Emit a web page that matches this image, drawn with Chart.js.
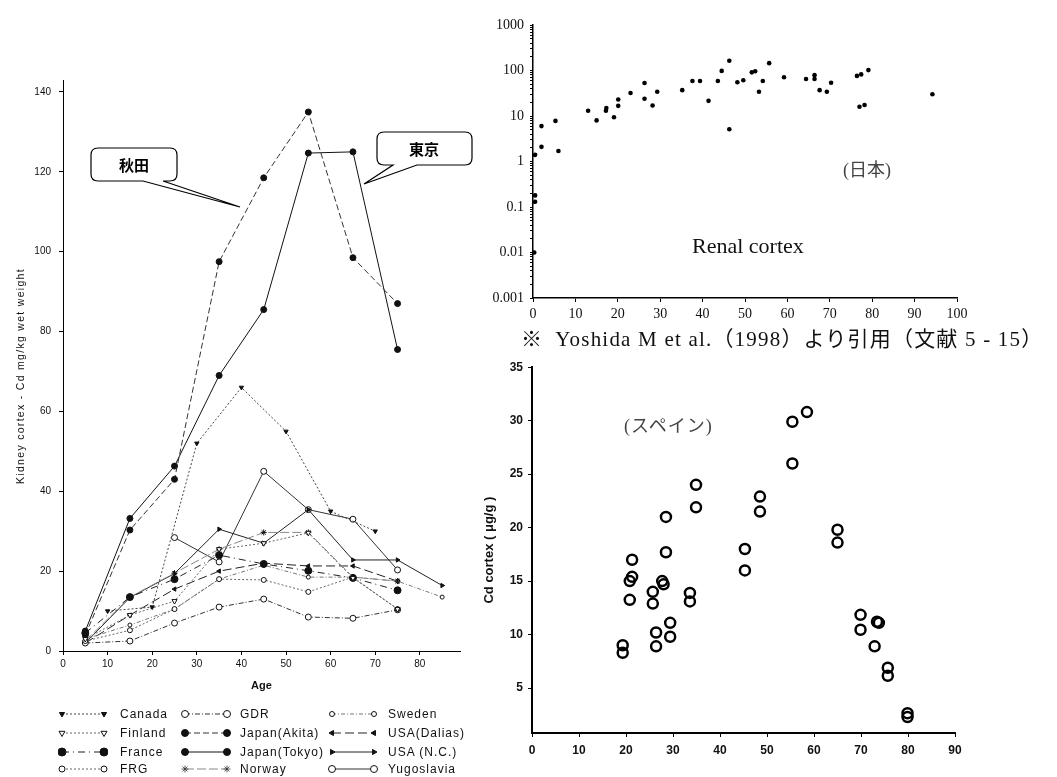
<!DOCTYPE html>
<html lang="ja">
<head>
<meta charset="UTF-8">
<title>Kidney cortex Cd by age</title>
<script src="https://cdn.jsdelivr.net/npm/chart.js@4.4.0/dist/chart.umd.min.js"></script>
<style>
    body {
        margin: 0;
        background: #fff;
        width: 1057px;
        height: 777px;
        position: relative;
        overflow: hidden;
        font-family: 'Liberation Sans', Arial, sans-serif;
    }
    .panel { position: absolute; }
    .note { position: absolute; white-space: pre; color: #111; }
    .serif { font-family: 'Liberation Serif', 'Noto Sans CJK JP', serif; }
    .lg-item { position: absolute; height: 14px; display: flex; align-items: center; }
    .lg-text { position: absolute; font-size: 12px; letter-spacing: 1px; color: #111; white-space: pre; line-height: 14px; }
    #callouts { position: absolute; left: 0; top: 0; pointer-events: none; }
    #ytitle {
        position: absolute; left: 20px; top: 376px; white-space: pre;
        font-size: 10.5px; letter-spacing: 1.3px; color: #111;
        transform: translate(-50%, -50%) rotate(-90deg);
    }
</style>
</head>
<body>
    <div class="panel" style="left:0;top:60px;width:470px;height:640px"><canvas id="countries"></canvas></div>
    <div class="panel" style="left:480px;top:0;width:500px;height:330px"><canvas id="japan"></canvas></div>
    <div class="panel" style="left:480px;top:355px;width:500px;height:420px"><canvas id="spain"></canvas></div>

    <div id="ytitle">Kidney cortex - Cd mg/kg wet weight</div>

    <svg id="callouts" width="1057" height="777">
        <path d="M98 148 H170 Q177 148 177 155 V174 Q177 181 170 181 H163 L240 207 L143 181 H98 Q91 181 91 174 V155 Q91 148 98 148 Z"
              fill="#fff" stroke="#000" stroke-width="1.2"/>
        <path d="M384 132 H465 Q472 132 472 139 V158 Q472 165 465 165 H417 L364 184 L393 165 H384 Q377 165 377 158 V139 Q377 132 384 132 Z"
              fill="#fff" stroke="#000" stroke-width="1.2"/>
        <text x="134" y="171" text-anchor="middle" font-size="15" font-weight="bold" font-family="Noto Sans CJK JP">秋田</text>
        <text x="424" y="155" text-anchor="middle" font-size="15" font-weight="bold" font-family="Noto Sans CJK JP">東京</text>
    </svg>

    <div class="note serif" style="left:843px;top:155px;font-size:18px;color:#444">(日本)</div>
    <div class="note serif" style="left:692px;top:233px;font-size:22px">Renal cortex</div>
    <div class="note serif" style="left:521px;top:322px;font-size:21px;letter-spacing:1.2px">※  Yoshida M et al.（1998）より引用（文献 5 - 15）</div>
    <div class="note serif" style="left:624px;top:411px;font-size:18px;letter-spacing:1px;color:#444">(スペイン)</div>

    <div id="legend"></div>

<script>
// ---- left chart: Cd in kidney cortex by country (mg/kg wet weight)
const ageGrid = [5, 10, 15, 20, 25, 30, 35, 40, 45, 50, 55, 60, 65, 70, 75, 80, 85];
const canada     = [null, 10, null, 11, null, 52, null, 66, null, 55, null, 35, null, 30, null, null, null];
const finland    = [3, null, 9, null, 12.5, null, 25.5, null, 27, null, 29.6, null, 18.3, null, 10.5, null, null];
const france     = [4.5, null, 13.5, null, 18, null, 24, null, 21.8, null, 20.1, null, 18.3, null, 15.2, null, null];
const frg        = [2.5, null, 5.2, null, 10.5, null, 18, null, 17.8, null, 14.8, null, 18.5, null, 10.5, null, null];
const gdr        = [2, null, 2.5, null, 7, null, 11, null, 13, null, 8.5, null, 8.2, null, 10.3, null, null];
const akita      = [4, null, 30.3, null, 43, null, 97.5, null, 118.5, null, 135, null, 98.5, null, 87, null, null];
const tokyo      = [5, null, 33.2, null, 46.3, null, 69, null, 85.5, null, 124.7, null, 125, null, 75.5, null, null];
const norway     = [2.5, null, 13.5, null, 19.5, null, 25.5, null, 29.7, null, 29.7, null, 18.5, null, 17.5, null, null];
const sweden     = [3, null, 6.5, null, 10.5, null, 18, null, 21.5, null, 18.5, null, 18.5, null, 17.5, null, 13.5];
const usaDallas  = [2, null, 9, null, 15.5, null, 20, null, 22, null, 21.3, null, 21.3, null, 17.5, null, null];
const usaNC      = [2, null, 13.4, null, 19.4, null, 30.5, null, 27, null, 35.4, null, 22.8, null, 22.8, null, 16.4];
const yugoslavia = [null, null, null, null, 28.4, null, 22.3, null, 45, null, 35.4, null, 33, null, 20.3, null, null];

const seriesNames = ['Canada', 'Finland', 'France', 'FRG', 'GDR', 'Japan(Akita)', 'Japan(Tokyo)', 'Norway',
                     'Sweden', 'USA(Dalias)', 'USA (N.C.)', 'Yugoslavia'];
const seriesValues = [canada, finland, france, frg, gdr, akita, tokyo, norway, sweden, usaDallas, usaNC, yugoslavia];

const leftYTicks = [0, 20, 40, 60, 80, 100, 120, 140];
const leftXTicks = [0, 10, 20, 30, 40, 50, 60, 70, 80];

// ---- top right: Japan, renal cortex (log scale)
const jpAge = [0.5, 0.5, 0.5, 0.3, 2, 2, 5.3, 6, 13, 15, 17.2, 17.3, 19.1, 20.1, 20.1, 23, 26.3, 26.3, 28.2, 29.3,
               35.2, 37.6, 39.4, 41.4, 43.6, 44.5, 46.3, 46.3, 48.2, 49.6, 51.6, 52.4, 53.3, 54.2, 55.7, 59.2,
               64.4, 66.4, 66.4, 67.6, 69.3, 70.3, 76.4, 77.4, 79.1, 77, 78.2, 94.2];
const jpCd = [1.4, 0.18, 0.13, 0.01, 6, 2.1, 7.8, 1.7, 13, 8, 13, 15, 9.4, 23, 16.7, 32, 53, 24, 17, 34,
              37, 59, 59, 21.5, 59, 98, 164, 5.1, 55, 61, 91, 96, 34, 59, 145, 71,
              65, 79, 65, 37, 34, 54, 76, 82, 102, 16, 17.5, 30];
const jpYLabels = ['0.001', '0.01', '0.1', '1', '10', '100', '1000'];
const jpXTicks = [0, 10, 20, 30, 40, 50, 60, 70, 80, 90, 100];

// ---- bottom right: Spain, Cd cortex (ug/g)
const spAge = [19.3, 19.3, 20.8, 20.8, 21.3, 21.3, 25.7, 25.7, 26.4, 26.4, 27.7, 28, 28.5, 28.5, 29.4, 29.4,
               33.6, 33.6, 34.9, 34.9, 45.3, 45.3, 48.5, 48.5, 55.4, 55.4, 58.5, 65, 65, 69.9, 69.9,
               73.4, 73.8, 72.9, 75.7, 75.7, 79.9, 79.9];
const spCd = [9, 8.3, 15, 13.25, 17, 15.4, 14, 12.9, 10.2, 8.9, 15, 14.7, 21, 17.7, 11.1, 9.8,
              13.9, 13.1, 24, 21.9, 18, 16, 22.9, 21.5, 29.9, 26, 30.8, 19.8, 18.6, 11.85, 10.45,
              11.2, 11.1, 8.9, 6.9, 6.15, 2.65, 2.3];
const spYTicks = [5, 10, 15, 20, 25, 30, 35];
const spXTicks = [0, 10, 20, 30, 40, 50, 60, 70, 80, 90];

// line look per country (kept apart from the data)
const lineStyles = {
    'Canada':       { dash: [2, 2],       color: '#444', marker: 'triangle', rot: 180, fill: true,  r: 2.5 },
    'Finland':      { dash: [2, 2],       color: '#666', marker: 'triangle', rot: 180, fill: false, r: 3 },
    'France':       { dash: [7, 4, 1, 4], color: '#222', marker: 'circle',   rot: 0,   fill: true,  r: 3.5 },
    'FRG':          { dash: [2, 2],       color: '#666', marker: 'circle',   rot: 0,   fill: false, r: 2.5 },
    'GDR':          { dash: [5, 2, 1, 2], color: '#333', marker: 'circle',   rot: 0,   fill: false, r: 3 },
    'Japan(Akita)': { dash: [6, 3],       color: '#333', marker: 'circle',   rot: 0,   fill: true,  r: 3 },
    'Japan(Tokyo)': { dash: [],           color: '#111', marker: 'circle',   rot: 0,   fill: true,  r: 3 },
    'Norway':       { dash: [9, 3],       color: '#888', marker: 'star',     rot: 0,   fill: false, r: 3 },
    'Sweden':       { dash: [4, 2, 1, 2], color: '#777', marker: 'circle',   rot: 0,   fill: false, r: 2 },
    'USA(Dalias)':  { dash: [9, 4],       color: '#222', marker: 'triangle', rot: 270, fill: true,  r: 2.5 },
    'USA (N.C.)':   { dash: [],           color: '#222', marker: 'triangle', rot: 90,  fill: true,  r: 2.5 },
    'Yugoslavia':   { dash: [],           color: '#333', marker: 'circle',   rot: 0,   fill: false, r: 3 }
};

Chart.defaults.color = '#111';
Chart.defaults.animation = false;

function fixWidth(w) { return function(scale) { scale.width = w; }; }
function fixHeight(h) { return function(scale) { scale.height = h; }; }
function setTicks(list) { return function(scale) { scale.ticks = list.map(v => ({ value: v })); }; }

// left chart
const countryDatasets = seriesNames.map((name, k) => {
    const st = lineStyles[name];
    const pts = ageGrid.map((a, i) => ({ x: a, y: seriesValues[k][i] })).filter(p => p.y !== null);
    return {
        label: name,
        data: pts,
        showLine: true,
        borderColor: st.color,
        borderWidth: 1,
        borderDash: st.dash,
        pointStyle: st.marker,
        rotation: st.rot,
        pointRadius: st.r,
        pointBorderWidth: 1,
        pointBorderColor: '#111',
        pointBackgroundColor: st.fill ? '#111' : '#fff',
        tension: 0
    };
});

new Chart(document.getElementById('countries'), {
    type: 'scatter',
    data: { datasets: countryDatasets },
    options: {
        responsive: true,
        maintainAspectRatio: false,
        layout: { padding: { top: 20, right: 10, left: 0, bottom: 0 } },
        plugins: { legend: { display: false }, tooltip: { enabled: false } },
        scales: {
            x: {
                type: 'linear', min: 0, max: 89,
                afterBuildTicks: setTicks(leftXTicks),
                afterFit: fixHeight(49),
                border: { color: '#000', width: 1 },
                grid: { drawOnChartArea: false, color: '#000', tickLength: 4 },
                ticks: { font: { size: 10 }, padding: 3, maxRotation: 0 },
                title: { display: true, text: 'Age', font: { size: 11, weight: 'bold' }, padding: { top: 0, bottom: 7 } }
            },
            y: {
                min: 0, max: 143,
                afterBuildTicks: setTicks(leftYTicks),
                afterFit: fixWidth(63),
                border: { color: '#000', width: 1 },
                grid: { drawOnChartArea: false, color: '#000', tickLength: 4 },
                ticks: { font: { size: 10 }, padding: 8 }
            }
        }
    }
});

// top right: Japan, log scale
const jpMinor = [];
for (let d = -3; d <= 2; d++) {
    for (let m = 1; m <= 9; m++) jpMinor.push(Number((m * Math.pow(10, d)).toPrecision(3)));
}
jpMinor.push(1000);

new Chart(document.getElementById('japan'), {
    type: 'scatter',
    data: {
        datasets: [{
            label: 'Renal cortex',
            data: jpAge.map((a, i) => ({ x: a, y: jpCd[i] })),
            pointRadius: 2.3,
            pointBackgroundColor: '#000',
            pointBorderColor: '#000',
            pointBorderWidth: 0
        }]
    },
    options: {
        responsive: true,
        maintainAspectRatio: false,
        layout: { padding: { top: 25, right: 23, left: 0, bottom: 0 } },
        plugins: { legend: { display: false }, tooltip: { enabled: false } },
        scales: {
            x: {
                type: 'linear', min: 0, max: 100,
                afterBuildTicks: setTicks(jpXTicks),
                afterFit: fixHeight(32),
                border: { color: '#000', width: 1.5 },
                grid: { drawOnChartArea: false, color: '#000', tickLength: 4 },
                ticks: { font: { family: 'Liberation Serif', size: 14 }, padding: 4, maxRotation: 0 }
            },
            y: {
                type: 'logarithmic', min: 0.001, max: 1000,
                afterBuildTicks: setTicks(jpMinor),
                afterFit: fixWidth(53),
                border: { color: '#000', width: 1.5 },
                grid: { drawOnChartArea: false, color: '#000', tickLength: 3 },
                ticks: {
                    font: { family: 'Liberation Serif', size: 14 }, padding: 6, autoSkip: false,
                    callback: function(v) {
                        const L = Math.log10(v);
                        return Math.abs(L - Math.round(L)) < 1e-6 ? jpYLabels[Math.round(L) + 3] : '';
                    }
                }
            }
        }
    }
});

// bottom right: Spain
new Chart(document.getElementById('spain'), {
    type: 'scatter',
    data: {
        datasets: [{
            label: 'Cd cortex',
            data: spAge.map((a, i) => ({ x: a, y: spCd[i] })),
            pointRadius: 5,
            pointBorderWidth: 2.5,
            pointBorderColor: '#000',
            pointBackgroundColor: 'rgba(255,255,255,0)'
        }]
    },
    options: {
        responsive: true,
        maintainAspectRatio: false,
        layout: { padding: { top: 12, right: 25, left: 0, bottom: 0 } },
        plugins: { legend: { display: false }, tooltip: { enabled: false } },
        scales: {
            x: {
                type: 'linear', min: 0, max: 90,
                afterBuildTicks: setTicks(spXTicks),
                afterFit: fixHeight(42),
                border: { color: '#000', width: 2 },
                grid: { drawOnChartArea: false, color: '#000', tickLength: 4 },
                ticks: { font: { size: 12, weight: 'bold' }, padding: 6, maxRotation: 0 }
            },
            y: {
                min: 0.8, max: 35,
                afterBuildTicks: setTicks(spYTicks),
                afterFit: fixWidth(52),
                border: { color: '#000', width: 2 },
                grid: { drawOnChartArea: false, color: '#000', tickLength: 4 },
                ticks: { font: { size: 12, weight: 'bold' }, padding: 5 },
                title: { display: true, text: 'Cd cortex ( μg/g )', font: { size: 13, weight: 'bold' }, padding: { top: 2, bottom: 0 } }
            }
        }
    }
});

// legend under the left chart, 3 columns x 4 rows
const legendSampleX = [58, 181, 328];
const legendTextX = [120, 240, 388];
const legendRowY = [714, 733, 752, 769];

function markerSvg(st, cx, cy) {
    const fill = st.fill ? '#111' : '#fff';
    const r = st.r + 0.5;
    if (st.marker === 'circle') {
        return `<circle cx="${cx}" cy="${cy}" r="${r}" fill="${fill}" stroke="#111" stroke-width="1"/>`;
    }
    if (st.marker === 'triangle') {
        const p = [[0, -r], [r * 0.87, r * 0.5], [-r * 0.87, r * 0.5]].map(([x, y]) => {
            const a = st.rot * Math.PI / 180;
            return (cx + x * Math.cos(a) - y * Math.sin(a)).toFixed(1) + ',' + (cy + x * Math.sin(a) + y * Math.cos(a)).toFixed(1);
        }).join(' ');
        return `<polygon points="${p}" fill="${fill}" stroke="#111" stroke-width="1"/>`;
    }
    return `<path d="M${cx - r} ${cy} H${cx + r} M${cx} ${cy - r} V${cy + r} M${cx - r * 0.7} ${cy - r * 0.7} L${cx + r * 0.7} ${cy + r * 0.7} M${cx - r * 0.7} ${cy + r * 0.7} L${cx + r * 0.7} ${cy - r * 0.7}" stroke="#333" stroke-width="0.8"/>`;
}

const legendBox = document.getElementById('legend');
seriesNames.forEach((name, i) => {
    const col = Math.floor(i / 4), row = i % 4;
    const st = lineStyles[name];
    const w = 50;
    const sample = document.createElement('div');
    sample.className = 'lg-item';
    sample.style.left = legendSampleX[col] + 'px';
    sample.style.top = (legendRowY[row] - 7) + 'px';
    sample.innerHTML = `<svg width="${w}" height="14"><line x1="4" y1="7" x2="${w - 4}" y2="7" stroke="${st.color}" stroke-width="1" stroke-dasharray="${st.dash.join(' ')}"/>${markerSvg(st, 4, 7)}${markerSvg(st, w - 4, 7)}</svg>`;
    legendBox.appendChild(sample);

    const label = document.createElement('div');
    label.className = 'lg-text';
    label.style.left = legendTextX[col] + 'px';
    label.style.top = (legendRowY[row] - 7) + 'px';
    label.textContent = name;
    legendBox.appendChild(label);
});
</script>
</body>
</html>
